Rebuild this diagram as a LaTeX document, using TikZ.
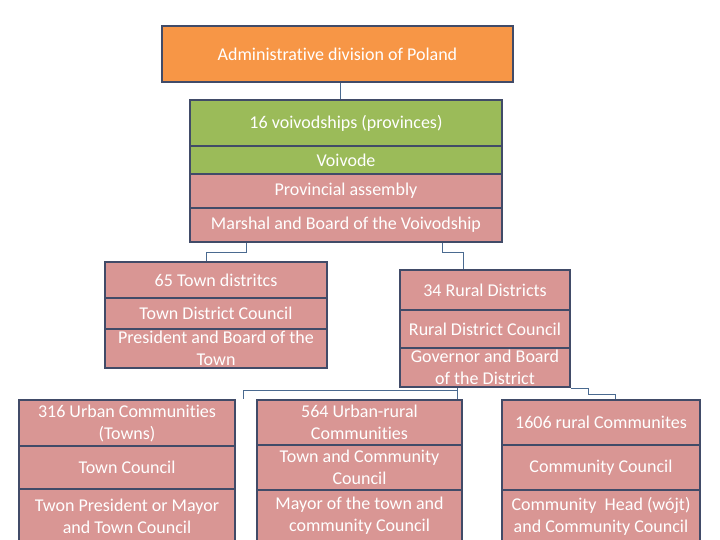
\documentclass[tikz,border=0pt]{standalone}
\usepackage{fontspec}
\setmainfont{Carlito}[Ligatures=NoCommon]
\definecolor{orangec}{HTML}{F79646}
\definecolor{greenc}{HTML}{9BBB59}
\definecolor{pinkc}{HTML}{D99694}
\definecolor{bordc}{HTML}{414B68}
\definecolor{linkc}{HTML}{4A6A90}
\begin{document}
\begin{tikzpicture}[x=1pt,y=-1pt,
  orgbox/.style={draw=bordc, line width=1.8pt, text=white, inner sep=0pt, align=center,
    font=\fontsize{18}{22}\selectfont},
  link/.style={draw=linkc, line width=0.8pt}]
\fill[white] (0,0) rectangle (720,540);
\useasboundingbox (0,0) rectangle (720,540);
% top
\node[orgbox, fill=orangec, minimum width=351pt, minimum height=56pt] (top) at (337.5,54) {Administrative division of Poland};
% voivodship stack
\node[orgbox, fill=greenc, minimum width=312pt, minimum height=46pt] (v16) at (346,123) {16 voivodships (provinces)};
\node[orgbox, fill=greenc, minimum width=312pt, minimum height=28pt] (voiv) at (346,160) {Voivode};
\node[orgbox, fill=pinkc, minimum width=312pt, minimum height=34pt] (prov) at (346,191) {Provincial assembly};
\node[orgbox, fill=pinkc, minimum width=312pt, minimum height=34pt] (marsh) at (346,225) {Marshal and Board of the Voivodship};
% town districts
\node[orgbox, fill=pinkc, minimum width=222pt, minimum height=36pt] (town1) at (216,280) {65 Town distritcs};
\node[orgbox, fill=pinkc, minimum width=222pt, minimum height=31pt] (town2) at (216,313.5) {Town District Council};
\node[orgbox, fill=pinkc, minimum width=222pt, minimum height=39pt] (town3) at (216,348.5) {President and Board of the\\Town};
% rural districts
\node[orgbox, fill=pinkc, minimum width=170pt, minimum height=40pt] (rur1) at (485,290) {34 Rural Districts};
\node[orgbox, fill=pinkc, minimum width=170pt, minimum height=38pt] (rur2) at (485,329) {Rural District Council};
\node[orgbox, fill=pinkc, minimum width=170pt, minimum height=39pt] (rur3) at (485,367.5) {Governor and Board\\of the District};
% urban communities
\node[orgbox, fill=pinkc, minimum width=216pt, minimum height=46pt] (urb1) at (127,423) {316 Urban Communities\\(Towns)};
\node[orgbox, fill=pinkc, minimum width=216pt, minimum height=43pt] (urb2) at (127,467.5) {Town Council};
\node[orgbox, fill=pinkc, minimum width=216pt, minimum height=54pt] (urb3) at (127,516) {Twon President or Mayor\\and Town Council};
% urban-rural communities
\node[orgbox, fill=pinkc, minimum width=205pt, minimum height=45pt] (ur1) at (359.5,422.5) {564 Urban-rural\\Communities};
\node[orgbox, fill=pinkc, minimum width=205pt, minimum height=45pt] (ur2) at (359.5,467.5) {Town and Community\\Council};
\node[orgbox, fill=pinkc, minimum width=205pt, minimum height=52pt] (ur3) at (359.5,516) {Mayor of the town and\\community Council};
% rural communities
\node[orgbox, fill=pinkc, minimum width=198pt, minimum height=45pt] (rc1) at (601,422.5) {1606 rural Communites};
\node[orgbox, fill=pinkc, minimum width=198pt, minimum height=45pt] (rc2) at (601,467.5) {Community Council};
\node[orgbox, fill=pinkc, minimum width=198pt, minimum height=52pt] (rc3) at (601,516) {Community\ \ Head (wójt)\\and Community Council};
% connectors
\draw[link] ([xshift=2.5pt]top.south) -- ([xshift=2.5pt]top.south |- v16.north);
\draw[link] ([xshift=-100pt]marsh.south) -- ++(0,9) -| ([xshift=-10pt]town1.north);
\draw[link] ([xshift=96pt]marsh.south) -- ++(0,9) -| ([xshift=-22pt]rur1.north);
\draw[link] ([xshift=-28pt]rur3.south) -- ++(0,2) -| ([xshift=116pt]urb1.north);
\draw[link] ([xshift=97.5pt]ur1.north) -- ([xshift=-28pt]rur3.south);
\draw[link] (rur3.south east) -- ++(17,0) -- ++(0,6) -| ([xshift=14pt]rc1.north);
\end{tikzpicture}
\end{document}
